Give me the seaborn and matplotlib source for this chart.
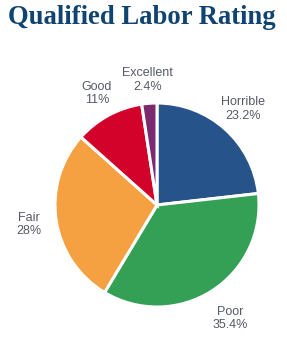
import matplotlib
matplotlib.use("Agg")
import matplotlib.pyplot as plt
import seaborn as sns
import numpy as np

sns.set_theme(style="white")
plt.rcParams["font.family"] = ["Liberation Sans", "DejaVu Sans"]

categories = ["Horrible", "Poor", "Fair", "Good", "Excellent"]
values = [23.2, 35.4, 28, 11, 2.4]
value_labels = ["23.2%", "35.4%", "28%", "11%", "2.4%"]
colors = ["#25538a", "#34a056", "#f5a142", "#d3022b", "#7b2a6f"]

fig = plt.figure(figsize=(2.87, 3.39), dpi=100)
ax = fig.add_axes([55 / 287, 32 / 339, 204 / 287, 204 / 339])

wedges, _ = ax.pie(values, colors=colors, startangle=90, counterclock=False,
                   wedgeprops=dict(edgecolor="white", linewidth=2.2))
ax.set_xlim(-1, 1)
ax.set_ylim(-1, 1)
ax.set_aspect("equal")

# labels centered outside each slice
dist = [1.26, 1.32, 1.27, 1.24, 1.23]
for w, cat, lab, d in zip(wedges, categories, value_labels, dist):
    ang = np.deg2rad((w.theta1 + w.theta2) / 2)
    ax.text(d * np.cos(ang), d * np.sin(ang), f"{cat}\n{lab}", ha="center", va="center",
            fontsize=9, color="#555a66", linespacing=1.15, clip_on=False)

fig.text(8 / 287, 1 - 18 / 339, "Qualified Labor Rating", ha="left", va="center",
         fontsize=19.2, fontweight="bold", color="#0f4472", family="Liberation Serif")

fig.savefig("out.png", dpi=100)
